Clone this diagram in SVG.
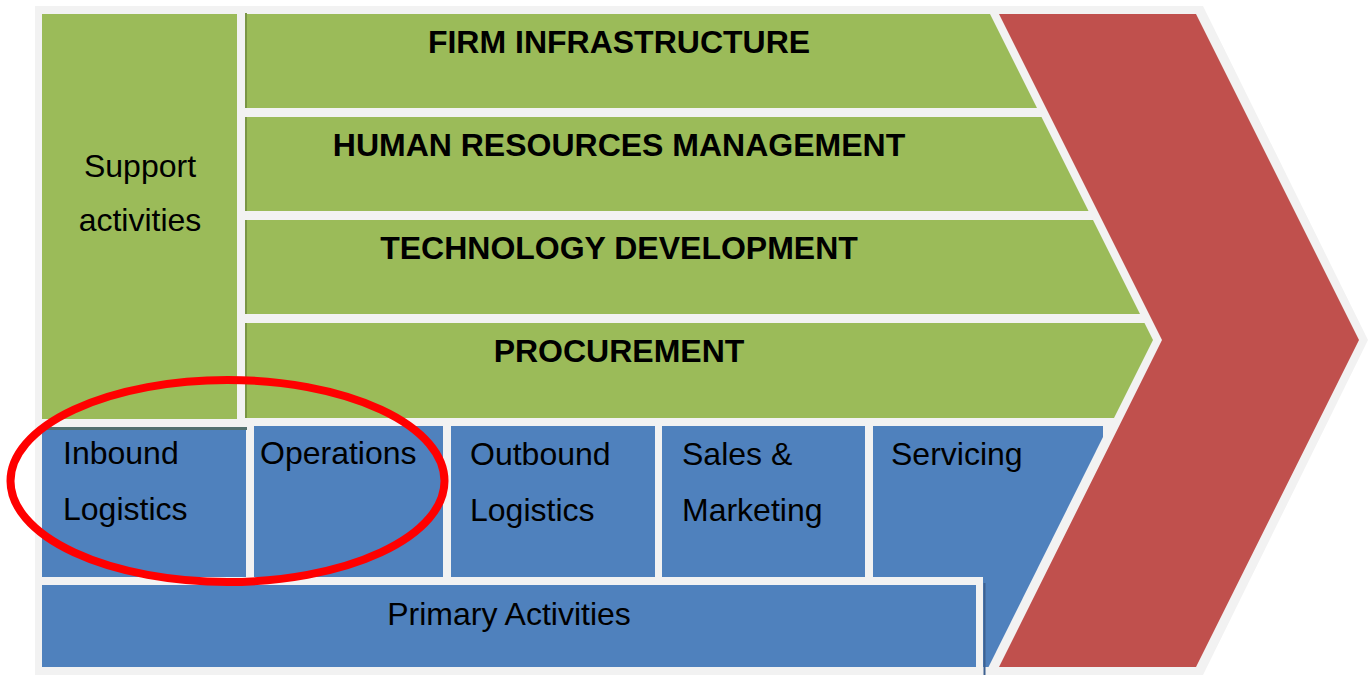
<svg xmlns="http://www.w3.org/2000/svg" width="1370" height="675" viewBox="0 0 1370 675">
<style>
.g{fill:#9bbb59}
.b{fill:#4f81bd}
.bold{font-family:"Liberation Sans",Arial,sans-serif;font-weight:bold;font-size:32px;fill:#000;text-anchor:middle}
.reg{font-family:"Liberation Sans",Arial,sans-serif;font-size:32px;fill:#000}
.mid{text-anchor:middle}
.sh{stroke:#7a9545;stroke-width:2}
</style>
<rect width="1370" height="675" fill="#ffffff"/>
<polygon id="background" points="35,6 1203,6 1368,340 1203,675 35,675" fill="#f2f2f2"/>
<g id="margin">
<polygon points="999,14 1196,14 1359,340 1196,667 999,667 1162,340" fill="#c0504d"/>
</g>
<g id="support">
<rect class="g" x="42" y="14" width="195" height="405"/>
<text class="reg mid" x="140" y="177">Support</text>
<text class="reg mid" x="140" y="231">activities</text>
</g>
<g id="firm-infrastructure">
<polygon class="g" points="246,14 990,14 1037,108 246,108"/>
<line class="sh" x1="246" y1="13" x2="246" y2="108"/>
<text class="bold" x="619" y="53">FIRM INFRASTRUCTURE</text>
</g>
<g id="hrm">
<polygon class="g" points="246,117 1041.5,117 1088.5,211 246,211"/>
<line class="sh" x1="246" y1="117" x2="246" y2="211"/>
<text class="bold" x="619" y="156">HUMAN RESOURCES MANAGEMENT</text>
</g>
<g id="technology">
<polygon class="g" points="246,220 1093,220 1140,314 246,314"/>
<line class="sh" x1="246" y1="220" x2="246" y2="314"/>
<text class="bold" x="619" y="259">TECHNOLOGY DEVELOPMENT</text>
</g>
<g id="procurement">
<polygon class="g" points="246,323 1144.5,323 1153,340 1114,418 246,418"/>
<line class="sh" x1="246" y1="323" x2="246" y2="418"/>
<text class="bold" x="619" y="362">PROCUREMENT</text>
</g>
<g id="inbound">
<rect class="b" x="42" y="427" width="204" height="150"/>
<line x1="42" y1="428.5" x2="247" y2="428.5" stroke="#52706f" stroke-width="3"/>
<text class="reg" x="63" y="464">Inbound</text>
<text class="reg" x="63" y="520">Logistics</text>
</g>
<g id="operations">
<rect class="b" x="254" y="426" width="189" height="151"/>
<text class="reg" x="260" y="464">Operations</text>
</g>
<g id="outbound">
<rect class="b" x="451" y="426" width="204" height="151"/>
<text class="reg" x="470" y="465">Outbound</text>
<text class="reg" x="470" y="521">Logistics</text>
</g>
<g id="sales">
<rect class="b" x="662" y="426" width="203" height="151"/>
<text class="reg" x="682" y="465">Sales &amp;</text>
<text class="reg" x="682" y="521">Marketing</text>
</g>
<g id="servicing">
<polygon class="b" points="873,426 1103,426 1103,437 988.5,667 873,667"/>
<text class="reg" x="891" y="465">Servicing</text>
</g>
<g id="primary">
<rect x="35" y="577" width="948" height="98" fill="#f2f2f2"/>
<line x1="984.5" y1="583" x2="984.5" y2="675" stroke="#3e6190" stroke-width="2"/>
<rect class="b" x="42" y="585" width="934" height="82"/>
<text class="reg mid" x="509" y="625">Primary Activities</text>
</g>
<g id="connectors">
<ellipse cx="227.5" cy="481" rx="217" ry="101" fill="none" stroke="#ff0000" stroke-width="8"/>
</g>
</svg>
